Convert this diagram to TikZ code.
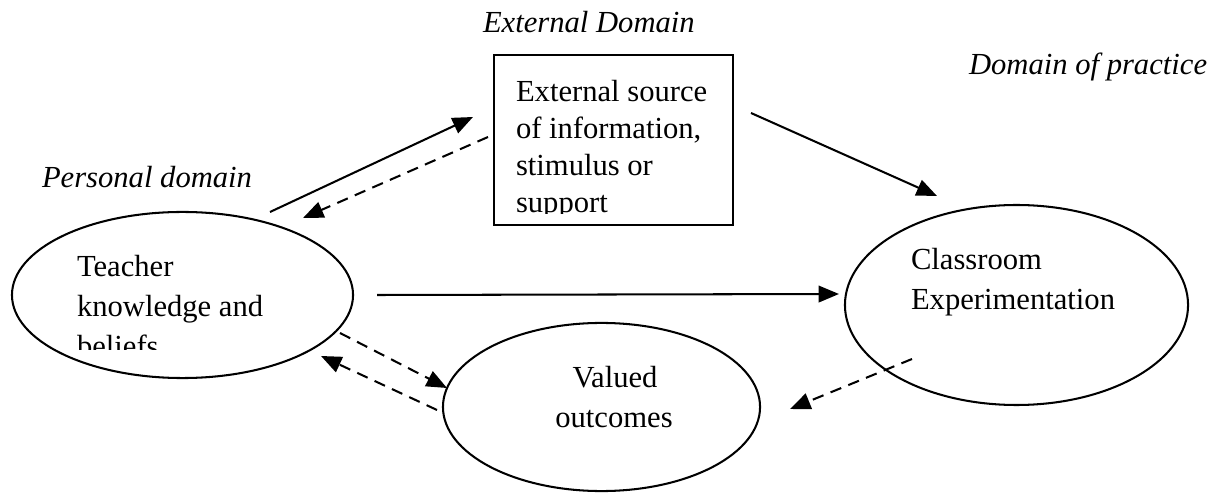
\documentclass[tikz,border=0pt]{standalone}
\usepackage{fontspec}
\setmainfont{Liberation Serif}
\usetikzlibrary{shapes.geometric,arrows.meta}
\begin{document}
\begin{tikzpicture}[x=0.392pt,y=-0.392pt,
  every node/.style={inner sep=0pt,outer sep=0pt,font=\fontsize{12pt}{14pt}\selectfont},
  shapeline/.style={draw=black,line width=0.8pt},
  oval/.style={shapeline,ellipse},
  txt/.style={anchor=base west},
  lbl/.style={anchor=base west,font=\fontsize{12pt}{14pt}\selectfont\itshape},
  solidarrow/.style={line width=0.8pt,-{Triangle[length=8pt,width=6.5pt]}},
  dasharrow/.style={line width=0.8pt,dash pattern=on 4.5pt off 3pt,-{Triangle[length=8pt,width=6.5pt]}}
]
\useasboundingbox (0,0) rectangle (1224,493);
% shapes
\node[shapeline,minimum width=93.7pt,minimum height=66.6pt] (box) at (613.5,140) {};
\node[oval,minimum width=133.7pt,minimum height=65.1pt] (teacher) at (182.5,295) {};
\node[oval,minimum width=134.5pt,minimum height=78.4pt] (class) at (1016.5,305) {};
\node[oval,minimum width=124.3pt,minimum height=65.9pt] (valued) at (601.5,407) {};
% domain labels
\node[lbl] (extdom) at (483,33) {External Domain};
\node[lbl] (pracdom) at (969,75) {Domain of practice};
\node[lbl] (persdom) at (42,188) {Personal domain};
% box text (clipped)
\begin{scope}
\clip (496,57) rectangle (731,214);
\node[txt] (b1) at (516,102) {External source};
\node[txt] (b2) at (516,139) {of information,};
\node[txt] (b3) at (516,176) {stimulus or};
\node[txt] (b4) at (516,213) {support};
\end{scope}
% teacher text (clipped)
\begin{scope}
\clip (20,230) rectangle (340,350);
\node[txt] (t1) at (77,277) {Teacher};
\node[txt] (t2) at (77,317) {knowledge and};
\node[txt] (t3) at (77,357) {beliefs};
\end{scope}
% classroom text
\node[txt] (c1) at (911,270) {Classroom};
\node[txt] (c2) at (911,310) {Experimentation};
% valued text
\node[anchor=base] (v1) at (615,387) {Valued};
\node[anchor=base] (v2) at (614,427) {outcomes};
% connector end points
\coordinate (a1s) at (270,212);
\coordinate (a1e) at (473,117);
\coordinate (a2s) at (488,137);
\coordinate (a2e) at (303,218);
\coordinate (a3s) at (751,113);
\coordinate (a3e) at (937,196);
\coordinate (a4s) at (377,295);
\coordinate (a4e) at (839,294);
\coordinate (a5s) at (340,333);
\coordinate (a5e) at (447,388);
\coordinate (a6s) at (437,410);
\coordinate (a6e) at (321,356);
\coordinate (a7s) at (912,359);
\coordinate (a7e) at (790,409);
% connectors
\draw[solidarrow] (a1s) -- (a1e);
\draw[dasharrow] (a2s) -- (a2e);
\draw[solidarrow] (a3s) -- (a3e);
\draw[solidarrow] (a4s) -- (a4e);
\draw[dasharrow] (a5s) -- (a5e);
\draw[dasharrow] (a6s) -- (a6e);
\draw[dasharrow] (a7s) -- (a7e);
\end{tikzpicture}
\end{document}
